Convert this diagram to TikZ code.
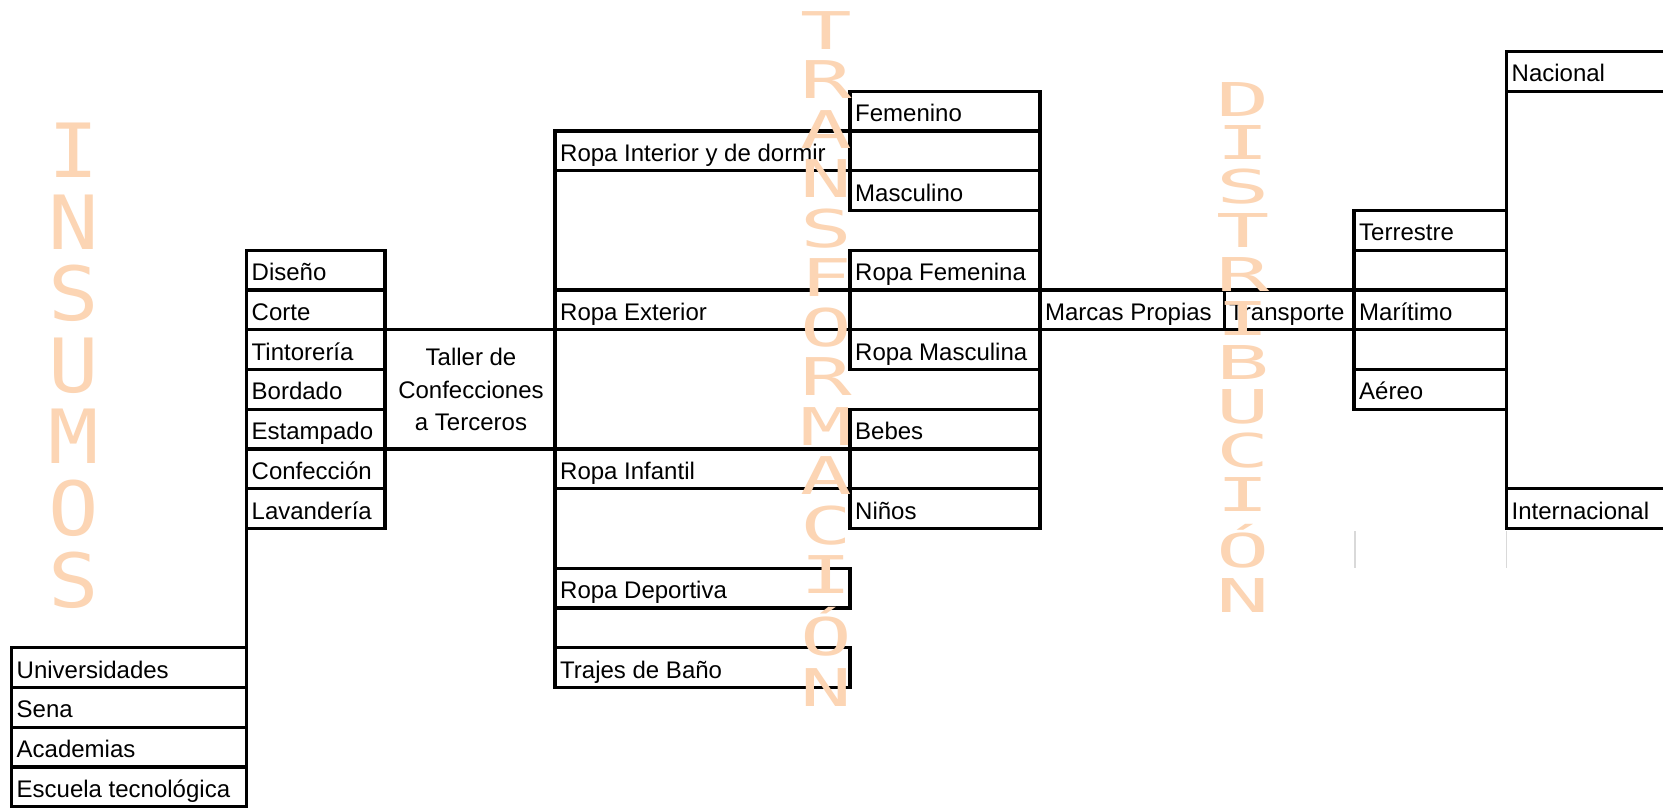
\documentclass[tikz,border=0pt]{standalone}
\usepackage{graphicx}
\usepackage{fontspec}
\setmainfont{Liberation Sans}
\newfontfamily\bigletterfont{DejaVu Sans Mono}
\definecolor{peach}{HTML}{FCD5B4}
\newcommand\rowy[1]{51.5+39.75*#1}
\begin{document}
\begin{tikzpicture}[x=1pt,y=-1pt,
  grid/.style={line width=3.4pt, line cap=rect, black},
  faint/.style={line width=1.5pt, black!15},
  lbl/.style={anchor=base west, inner sep=0pt, font=\fontsize{24}{28}\selectfont},
  ctr/.style={anchor=base, inner sep=0pt, font=\fontsize{24}{28}\selectfont},
  bigA/.style={anchor=base, inner sep=0pt, text=peach, font=\bigletterfont\fontsize{74.8}{80}\selectfont},
  bigB/.style={anchor=base, inner sep=0pt, text=peach, font=\bigletterfont\fontsize{52}{56}\selectfont},
  bigC/.style={anchor=base, inner sep=0pt, text=peach, font=\bigletterfont\fontsize{46.6}{50}\selectfont}]
\useasboundingbox (0,0) rectangle (1663,808);
\fill[white] (0,0) rectangle (1663,808);

% ---------- horizontal borders ----------
\foreach \k in {15,...,19} \draw[grid] (11.5,{\rowy{\k}}) -- (246.5,{\rowy{\k}});
\foreach \k in {5,...,12} \draw[grid] (246.5,{\rowy{\k}}) -- (385,{\rowy{\k}});
\foreach \k in {7,10} \draw[grid] (385,{\rowy{\k}}) -- (555,{\rowy{\k}});
\foreach \k in {2,3,6,7,10,11,13,14,15,16} \draw[grid] (555,{\rowy{\k}}) -- (850,{\rowy{\k}});
\foreach \k in {1,...,12} \draw[grid] (850,{\rowy{\k}}) -- (1039.8,{\rowy{\k}});
\foreach \k in {6,7} \draw[grid] (1039.8,{\rowy{\k}}) -- (1354,{\rowy{\k}});
\foreach \k in {4,...,9} \draw[grid] (1354,{\rowy{\k}}) -- (1506.5,{\rowy{\k}});
\foreach \k in {0,1,11,12} \draw[grid] (1506.5,{\rowy{\k}}) -- (1680,{\rowy{\k}});

% ---------- vertical borders ----------
\draw[grid] (11.5,{\rowy{15}}) -- (11.5,{\rowy{19}});
\draw[grid] (246.5,{\rowy{5}}) -- (246.5,{\rowy{19}});
\draw[grid] (385,{\rowy{5}}) -- (385,{\rowy{12}});
\draw[grid] (555,{\rowy{2}}) -- (555,{\rowy{16}});
\foreach \a/\b in {1/4,5/8,9/12,13/14,15/16} \draw[grid] (850,{\rowy{\a}}) -- (850,{\rowy{\b}});
\draw[grid] (1039.8,{\rowy{1}}) -- (1039.8,{\rowy{12}});
\draw[grid] (1224.5,{\rowy{6}}) -- (1224.5,{\rowy{7}});
\draw[grid] (1354,{\rowy{4}}) -- (1354,{\rowy{9}});
\draw[grid] (1506.5,{\rowy{0}}) -- (1506.5,{\rowy{12}});

% faint grid marks
\draw[faint] (1355,531) -- (1355,568);
\draw[faint] (1506.7,531) -- (1506.7,568);

% ---------- labels ----------
\node[lbl] (univ) at (16.5,{\rowy{16}-9.5}) {Universidades};
\node[lbl] (sena) at (16.5,{\rowy{17}-9.5}) {Sena};
\node[lbl] (acad) at (16.5,{\rowy{18}-9.5}) {Academias};
\node[lbl] (escu) at (16.5,{\rowy{19}-9.5}) {Escuela tecnológica};

\node[lbl] (dise) at (251.5,{\rowy{6}-9.5}) {Diseño};
\node[lbl] (cort) at (251.5,{\rowy{7}-9.5}) {Corte};
\node[lbl] (tint) at (251.5,{\rowy{8}-9.5}) {Tintorería};
\node[lbl] (bord) at (251.5,{\rowy{9}-9.5}) {Bordado};
\node[lbl] (esta) at (251.5,{\rowy{10}-9.5}) {Estampado};
\node[lbl] (conf) at (251.5,{\rowy{11}-9.5}) {Confección};
\node[lbl] (lava) at (251.5,{\rowy{12}-9.5}) {Lavandería};

\node[ctr] (tal1) at (471,365.7) {Taller de};
\node[ctr] (tal2) at (471,398) {Confecciones};
\node[ctr] (tal3) at (471,430.3) {a Terceros};

\node[lbl] (rint) at (560,{\rowy{3}-9.5}) {Ropa Interior y de dormir};
\node[lbl] (rext) at (560,{\rowy{7}-9.5}) {Ropa Exterior};
\node[lbl] (rinf) at (560,{\rowy{11}-9.5}) {Ropa Infantil};
\node[lbl] (rdep) at (560,{\rowy{14}-9.5}) {Ropa Deportiva};
\node[lbl] (traj) at (560,{\rowy{16}-9.5}) {Trajes de Baño};

\node[lbl] (feme) at (855,{\rowy{2}-9.5}) {Femenino};
\node[lbl] (masc) at (855,{\rowy{4}-9.5}) {Masculino};
\node[lbl] (rfem) at (855,{\rowy{6}-9.5}) {Ropa Femenina};
\node[lbl] (rmas) at (855,{\rowy{8}-9.5}) {Ropa Masculina};
\node[lbl] (bebe) at (855,{\rowy{10}-9.5}) {Bebes};
\node[lbl] (nino) at (855,{\rowy{12}-9.5}) {Niños};

\node[lbl] (marc) at (1044.8,{\rowy{7}-9.5}) {Marcas Propias};
\node[lbl] (tran) at (1229,{\rowy{7}-9.5}) {Transporte};

\node[lbl] (terr) at (1359,{\rowy{5}-9.5}) {Terrestre};
\node[lbl] (mari) at (1359,{\rowy{7}-9.5}) {Marítimo};
\node[lbl] (aere) at (1359,{\rowy{9}-9.5}) {Aéreo};

\node[lbl] (naci) at (1511.5,{\rowy{1}-9.5}) {Nacional};
\node[lbl] (inte) at (1511.5,{\rowy{12}-9.5}) {Internacional};

% ---------- big vertical words ----------
\foreach \l/\b [count=\i] in {I/177.5,N/249.1,S/320.7,U/392.3,M/463.9,O/535.5,S/607.1}
  \node[bigA] (ins\i) at (74,\b) {\scalebox{1.12}[1]{\l}};
\foreach \l/\b [count=\i] in {T/49.2,R/98.7,A/148.2,N/197.7,S/247.2,F/296.7,O/346.2,R/395.7,M/445.2,A/494.7,C/544.2,I/593.7,Ó/655.5,N/706.5}
  \node[bigB] (trf\i) at (826,\b) {\scalebox{1.65}[1]{\l}};
\foreach \l/\b [count=\i] in {D/116,I/159.9,S/203.8,T/247.7,R/291.6,I/335.5,B/379.4,U/423.3,C/467.2,I/511.1,Ó/567,N/612}
  \node[bigC] (dis\i) at (1243,\b) {\scalebox{1.9}[1]{\l}};
\end{tikzpicture}
\end{document}
